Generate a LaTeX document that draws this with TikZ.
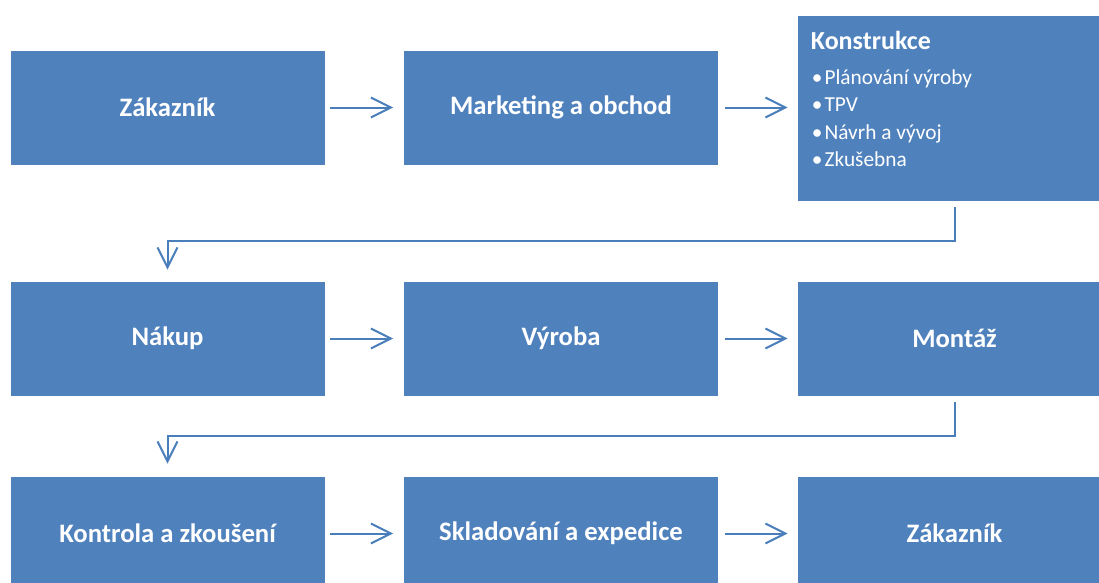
\documentclass[tikz,border=0pt]{standalone}
\usepackage{fontspec}
\setmainfont{Carlito}
\usetikzlibrary{arrows.meta,calc}
\definecolor{boxblue}{HTML}{4F81BD}
\definecolor{linkblue}{HTML}{4A7EBB}
\begin{document}
\begin{tikzpicture}[x=0.75pt,y=-0.75pt,
  stage/.style={rectangle,fill=boxblue,draw=white,line width=0.5pt,
    minimum width=236.25pt,minimum height=86.25pt,inner sep=0pt,
    text=white,font=\bfseries\fontsize{20}{24}\selectfont},
  tall/.style={stage,minimum height=139.5pt},
  item/.style={anchor=base west,inner sep=0pt,text=white,
    font=\fontsize{16}{19}\selectfont},
  link/.style={draw=linkblue,line width=1.5pt,
    -{Straight Barb[length=15pt,width=15pt,line width=1.5pt]}}]
\useasboundingbox (0,0) rectangle (1099,582);
\begin{scope}
\clip (0,0) rectangle (1099,582);
% first row
\node[stage] (z1)  at (167.5,107.5) {Zákazník};
\node[stage] (mo)  at (561,107.5)   {Marketing a obchod};
\node[tall]  (kon) at (954.5,108)   {};
\node[anchor=base west,inner sep=0pt,text=white,
  font=\bfseries\fontsize{19.5}{23}\selectfont] (kont)
  at ($(kon.north west)+(14,35)$) {Konstrukce};
\foreach \t [count=\i] in {Plánování výroby,TPV,Návrh a vývoj,Zkušebna}
  \node[item] (b\i) at ($(kon.north west)+(15,70+27.3*\i-27.3)$)
    {•\hspace{1.5pt}\t};
% second row
\node[stage] (nak) at (167.5,338.5) {Nákup};
\node[stage] (vyr) at (561,338.5)   {Výroba};
\node[stage] (mon) at (954.5,338.5) {Montáž};
% third row
\node[stage] (kz)  at (167.5,533.5) {Kontrola a zkoušení};
\node[stage] (skl) at (561,533.5)   {Skladování a expedice};
\node[stage] (z2)  at (954.5,533.5) {Zákazník};
\end{scope}
% straight links
\draw[link] ($(z1.east)+(5,0)$)  -- ($(mo.west)+(-10,0)$);
\draw[link] ($(mo.east)+(6,0)$)  -- ($(kon.west|-mo.east)+(-9,0)$);
\draw[link] ($(nak.east)+(5,0)$) -- ($(vyr.west)+(-10,0)$);
\draw[link] ($(vyr.east)+(6,0)$) -- ($(mon.west)+(-9,0)$);
\draw[link] ($(kz.east)+(5,0)$)  -- ($(skl.west)+(-10,0)$);
\draw[link] ($(skl.east)+(6,0)$) -- ($(z2.west)+(-9,0)$);
% row-to-row links
\draw[link,line join=miter] ($(kon.south)+(0,6)$) -- ++(0,34)
  -| ($(nak.north)+(0,-11)$);
\draw[link,line join=miter] ($(mon.south)+(0,6)$) -- ++(0,34)
  -| ($(kz.north)+(0,-12)$);
\end{tikzpicture}
\end{document}
